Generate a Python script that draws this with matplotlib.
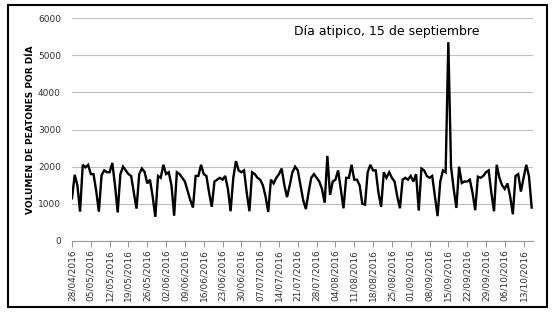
import numpy as np
import pandas as pd
import matplotlib
matplotlib.use("Agg")
import matplotlib.pyplot as plt
import matplotlib.dates as mdates
from matplotlib.patches import Rectangle

# daily pedestrian volume, starting 28/04/2016
start_date = "2016-04-28"
volumen = [
    1150, 1780, 1500, 790, 2050, 1980, 2050,
    1800, 1800, 1350, 790, 1770, 1900, 1850,
    1850, 2100, 1500, 770, 1800, 2000, 1900,
    1800, 1750, 1300, 870, 1800, 1950, 1860,
    1550, 1650, 1200, 650, 1750, 1700, 2050,
    1800, 1850, 1500, 680, 1850, 1800, 1700,
    1600, 1350, 1100, 900, 1750, 1750, 2050,
    1800, 1750, 1300, 920, 1600, 1650, 1700,
    1650, 1750, 1400, 800, 1700, 2150, 1900,
    1850, 1900, 1300, 800, 1850, 1800, 1700,
    1650, 1500, 1200, 780, 1650, 1550, 1700,
    1800, 1950, 1500, 1180, 1500, 1850, 2000,
    1900, 1500, 1100, 860, 1300, 1700, 1800,
    1700, 1600, 1400, 1030, 2290, 1240, 1600,
    1650, 1900, 1400, 880, 1700, 1700, 2050,
    1650, 1650, 1500, 1000, 980, 1850, 2050,
    1900, 1900, 1300, 920, 1850, 1700, 1850,
    1700, 1600, 1200, 880, 1650, 1700, 1650,
    1750, 1600, 1800, 820, 1950, 1900, 1750,
    1700, 1750, 1200, 670, 1600, 1900, 1850,
    5350, 2000, 1400, 890, 2000, 1560, 1600,
    1600, 1650, 1300, 830, 1730, 1700, 1750,
    1850, 1900, 1300, 800, 2050, 1700, 1500,
    1400, 1550, 1200, 720, 1750, 1800, 1330,
    1700, 2050, 1750, 900,
]
fechas = pd.date_range(start_date, periods=len(volumen), freq="D")
tick_fechas = fechas[::7]
y_ticks = [0, 1000, 2000, 3000, 4000, 5000, 6000]
anotacion = "Día atipico, 15 de septiembre"
ylabel = "VOLUMEN DE PEATONES POR DÍA"

fig = plt.figure(figsize=(5.54, 3.18), dpi=100)
ax = fig.add_axes([72/554, 1-241/318, (533-72)/554, (241-18)/318])

ax.plot(fechas, volumen, color="black", lw=1.7, solid_joinstyle="miter")

ax.set_ylim(0, 6000)
ax.set_xlim(fechas[0], fechas[-1] + pd.Timedelta(hours=12))
ax.set_yticks(y_ticks)
ax.set_yticklabels([str(v) for v in y_ticks], fontsize=6.5, color="#333333")
ax.tick_params(axis="y", length=0, pad=8)
ax.yaxis.grid(True, color="#bfbfbf", lw=0.8)
ax.set_axisbelow(True)

ax.set_xticks(tick_fechas)
ax.xaxis.set_major_formatter(mdates.DateFormatter("%d/%m/%Y"))
plt.setp(ax.get_xticklabels(), rotation=90, fontsize=6.5, color="#333333")
ax.tick_params(axis="x", length=4, color="#999999", pad=2)

for s in ["top", "right", "left"]:
    ax.spines[s].set_visible(False)
ax.spines["bottom"].set_color("#999999")
ax.spines["bottom"].set_linewidth(0.8)

ax.set_ylabel(ylabel, fontsize=6.5, fontweight="bold")
ax.yaxis.set_label_coords(-0.08, 0.5)

fig.text(387/554, 1-32/318, anotacion, ha="center", va="center", fontsize=9)

fig.patches.append(Rectangle((8/554, 1-307/318), (547-8)/554, (307-5)/318,
                             transform=fig.transFigure, fill=False,
                             edgecolor="black", lw=1.5))

fig.savefig("out.png", dpi=100)
